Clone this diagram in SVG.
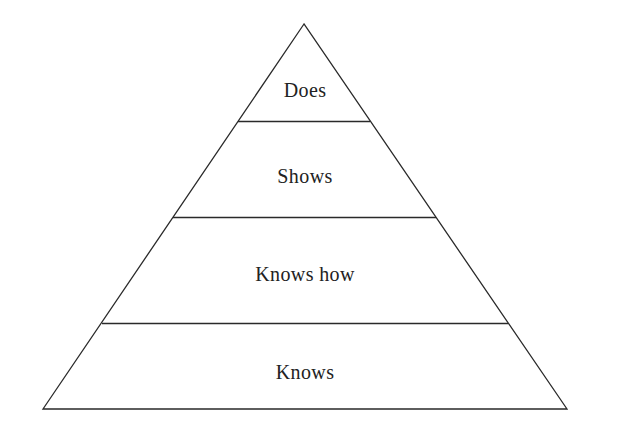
<svg xmlns="http://www.w3.org/2000/svg" width="640" height="430" viewBox="0 0 640 430">
<style>
.l{fill:none;stroke:#2a2a2a;stroke-width:1.3}
text{font-family:"Liberation Serif","Times New Roman",serif;font-size:20px;fill:#222;text-anchor:middle;letter-spacing:0.4px}
</style>
<rect width="640" height="430" fill="#fff"/>
<g id="pyramid">
<polygon class="l" points="304,24 43,409 567,409"/>
</g>
<g id="connectors">
<line class="l" x1="238" y1="121.5" x2="370" y2="121.5"/>
<line class="l" x1="173" y1="217.5" x2="436" y2="217.5"/>
<line class="l" x1="102" y1="323.5" x2="508" y2="323.5"/>
</g>
<g id="does"><text x="305" y="97">Does</text></g>
<g id="shows"><text x="305" y="183">Shows</text></g>
<g id="knowshow"><text x="305" y="281">Knows how</text></g>
<g id="knows"><text x="305" y="379">Knows</text></g>
</svg>
